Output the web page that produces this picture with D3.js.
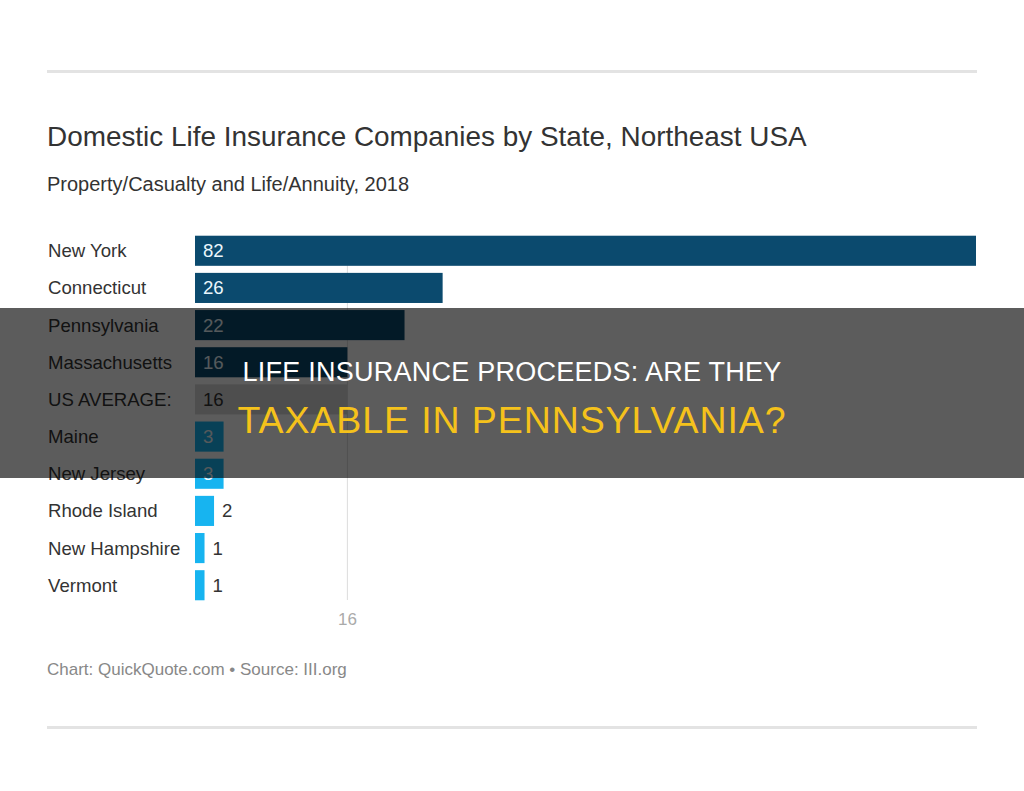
<!DOCTYPE html>
<html lang="en">
<head>
    <meta charset="UTF-8">
    <title>Domestic Life Insurance Companies by State</title>
    <script src="https://d3js.org/d3.v7.min.js"></script>
    <style>
        body { margin: 0; background: #fff; }
        svg { display: block; }
    </style>
</head>
<body>
    <script>
        const states = ["New York", "Connecticut", "Pennsylvania", "Massachusetts", "US AVERAGE:",
            "Maine", "New Jersey", "Rhode Island", "New Hampshire", "Vermont"];
        const companies = [82, 26, 22, 16, 16, 3, 3, 2, 1, 1];
        const groups = ["top", "top", "top", "top", "avg", "rest", "rest", "rest", "rest", "rest"];
        const average = 16;

        const width = 1024;
        const height = 791;

        const color = d3.scaleOrdinal()
            .domain(["top", "avg", "rest"])
            .range(["#0b4a6e", "#d9d9d9", "#17b4f0"]);

        const svg = d3.select("body").append("svg")
            .attr("width", width)
            .attr("height", height)
            .style("font-family", "'Liberation Sans', Arial, sans-serif");

        // rules top and bottom
        svg.append("rect").attr("x", 47).attr("y", 70).attr("width", 930).attr("height", 3).attr("fill", "#e3e3e3");
        svg.append("rect").attr("x", 47).attr("y", 726).attr("width", 930).attr("height", 3).attr("fill", "#e3e3e3");

        svg.append("text")
            .attr("x", 47).attr("y", 146)
            .attr("fill", "#333")
            .style("font-size", "27.9px")
            .text("Domestic Life Insurance Companies by State, Northeast USA");

        svg.append("text")
            .attr("x", 47).attr("y", 191)
            .attr("fill", "#333")
            .style("font-size", "20px")
            .text("Property/Casualty and Life/Annuity, 2018");

        const x = d3.scaleLinear().domain([0, 82]).range([195, 976]);
        const y = d3.scaleBand().domain(states).range([232, 604]).paddingInner(0.19).paddingOuter(0.1);

        // average line
        svg.append("line")
            .attr("x1", x(average)).attr("x2", x(average))
            .attr("y1", 236).attr("y2", 600)
            .attr("stroke", "#dcdcdc").attr("stroke-width", 1);

        svg.append("text")
            .attr("x", x(average)).attr("y", 625)
            .attr("text-anchor", "middle")
            .attr("fill", "#aaa")
            .style("font-size", "17px")
            .text(average);

        const data = states.map((s, i) => ({ state: s, value: companies[i], group: groups[i] }));

        const row = svg.selectAll(".row")
            .data(data)
            .enter().append("g")
            .attr("class", "row")
            .attr("transform", d => `translate(0,${y(d.state)})`);

        row.append("text")
            .attr("x", 48)
            .attr("y", y.bandwidth() / 2)
            .attr("dy", "0.35em")
            .attr("fill", "#333")
            .style("font-size", "18.6px")
            .text(d => d.state);

        row.append("rect")
            .attr("x", x(0))
            .attr("width", d => x(d.value) - x(0))
            .attr("height", y.bandwidth())
            .attr("fill", d => color(d.group));

        row.append("text")
            .attr("x", d => d.value >= 3 ? x(0) + 8 : x(d.value) + 8)
            .attr("y", y.bandwidth() / 2)
            .attr("dy", "0.35em")
            .attr("fill", d => d.value >= 3 && d.group !== "avg" ? "#eaf6fc" : "#333")
            .style("font-size", "18.6px")
            .text(d => d.value);

        svg.append("text")
            .attr("x", 47).attr("y", 675)
            .attr("fill", "#888")
            .style("font-size", "17px")
            .text("Chart: QuickQuote.com \u2022 Source: III.org");

        // banner overlay
        svg.append("rect")
            .attr("x", 0).attr("y", 308)
            .attr("width", width).attr("height", 170)
            .attr("fill", "#000").attr("opacity", 0.64);

        svg.append("text")
            .attr("x", width / 2).attr("y", 381)
            .attr("text-anchor", "middle")
            .attr("fill", "#fff")
            .style("font-size", "27px")
            .style("letter-spacing", "0.25px")
            .text("LIFE INSURANCE PROCEEDS: ARE THEY");

        svg.append("text")
            .attr("x", width / 2).attr("y", 433)
            .attr("text-anchor", "middle")
            .attr("fill", "#f5c21b")
            .style("font-size", "37.5px")
            .style("letter-spacing", "0.9px")
            .text("TAXABLE IN PENNSYLVANIA?");
    </script>
</body>
</html>
